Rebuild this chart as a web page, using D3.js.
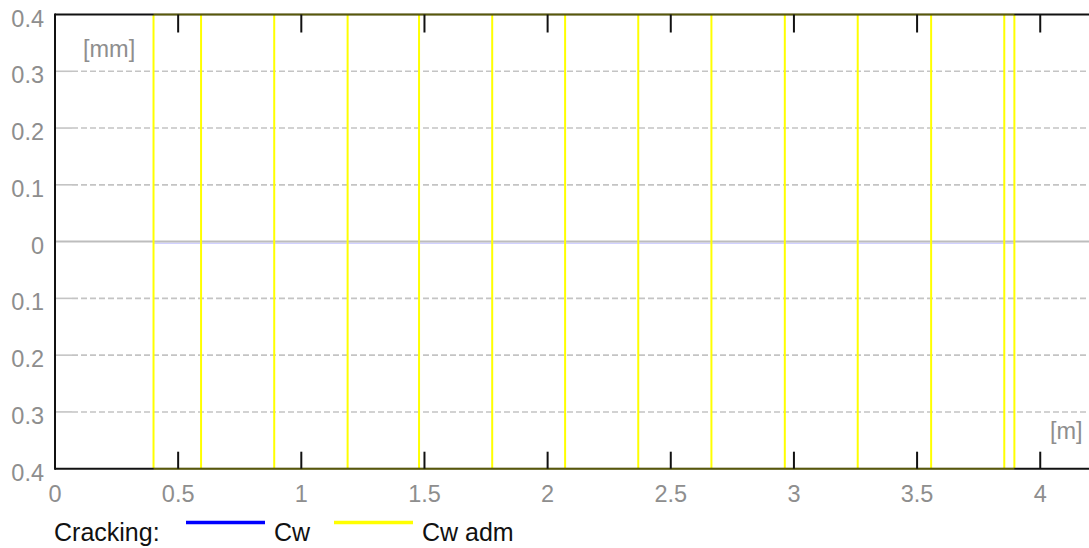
<!DOCTYPE html>
<html>
<head>
<meta charset="utf-8">
<script src="https://cdn.jsdelivr.net/npm/d3@7"></script>
<style>
  html, body { margin: 0; padding: 0; background: #fff; overflow: hidden; }
  svg { display: block; font-family: "Liberation Sans", Arial, sans-serif; }
</style>
</head>
<body>
<svg id="chart" width="1089" height="548"></svg>
<script>
// ---- data ----
const xTicks = [0, 0.5, 1, 1.5, 2, 2.5, 3, 3.5, 4];
const yTicks = [-0.4, -0.3, -0.2, -0.1, 0, 0.1, 0.2, 0.3, 0.4];
const crackPositions = [0.400, 0.593, 0.890, 1.188, 1.478, 1.775, 2.071, 2.368, 2.665, 2.963, 3.259, 3.557, 3.854, 3.895];
const cwValues = [0, 0, 0, 0, 0, 0, 0, 0, 0, 0, 0, 0, 0, 0];
const cwAdmLimit = 0.4;
const xUnit = "[m]";
const yUnit = "[mm]";
const legendTitle = "Cracking:";
const seriesNames = ["Cw", "Cw adm"];
const seriesColors = ["#0000ff", "#ffff00"];

// ---- layout ----
const W = 1089, H = 548;
const svg = d3.select("#chart");
const x = d3.scaleLinear().domain([0, 4.2]).range([55, 1089.5]);
const y = d3.scaleLinear().domain([-0.4, 0.4]).range([468.7, 14.5]);
const fmt = v => (Math.abs(v) < 1e-9 ? "0" : d3.format("~g")(Math.abs(v)));
const gray = "#8e8e8e";

// grid lines (dashed) and short solid gray y ticks
const grid = svg.append("g");
yTicks.filter(v => Math.abs(v) > 1e-9 && Math.abs(v) < 0.39).forEach(v => {
  grid.append("line")
    .attr("x1", x(0) + 17).attr("x2", W)
    .attr("y1", y(v)).attr("y2", y(v))
    .attr("stroke", "#c4c4c4").attr("stroke-width", 1.6)
    .attr("stroke-dasharray", "6,3");
  grid.append("line")
    .attr("x1", x(0)).attr("x2", x(0) + 17)
    .attr("y1", y(v)).attr("y2", y(v))
    .attr("stroke", "#c4c4c4").attr("stroke-width", 1.6);
});

// Cw series (at zero)
const lineGen = d3.line().x(d => x(d[0])).y(d => y(d[1]));
svg.append("path")
  .datum(crackPositions.map((p, i) => [p, cwValues[i]]))
  .attr("d", lineGen)
  .attr("transform", "translate(0,1.6)")
  .attr("fill", "none")
  .attr("stroke", seriesColors[0])
  .attr("stroke-opacity", 0.18)
  .attr("stroke-width", 1.5);

// zero line
svg.append("line")
  .attr("x1", x(0)).attr("x2", W)
  .attr("y1", y(0)).attr("y2", y(0))
  .attr("stroke", "#bdbdbd").attr("stroke-width", 2);

// Cw adm: vertical lines at cracks
svg.append("g").selectAll("line")
  .data(crackPositions)
  .join("line")
  .attr("x1", d => x(d)).attr("x2", d => x(d))
  .attr("y1", y(cwAdmLimit)).attr("y2", y(-cwAdmLimit))
  .attr("stroke", seriesColors[1])
  .attr("stroke-width", 2);

// frame: left, top, bottom
const frame = svg.append("g").attr("stroke", "#111").attr("stroke-width", 2).attr("fill", "none");
frame.append("line").attr("x1", x(0)).attr("x2", x(0)).attr("y1", y(0.4) - 1).attr("y2", y(-0.4) + 1);
frame.append("line").attr("x1", x(0)).attr("x2", W).attr("y1", y(0.4)).attr("y2", y(0.4));
frame.append("line").attr("x1", x(0)).attr("x2", W).attr("y1", y(-0.4)).attr("y2", y(-0.4));

// Cw adm horizontal limits (over the frame, tinted)
[cwAdmLimit, -cwAdmLimit].forEach(v => {
  svg.append("line")
    .attr("x1", x(d3.min(crackPositions))).attr("x2", x(d3.max(crackPositions)))
    .attr("y1", y(v)).attr("y2", y(v))
    .attr("stroke", seriesColors[1]).attr("stroke-opacity", 0.3)
    .attr("stroke-width", 2);
});

// x ticks (top and bottom, black)
const tickG = svg.append("g").attr("stroke", "#111").attr("stroke-width", 2);
xTicks.filter(v => v > 0).forEach(v => {
  tickG.append("line").attr("x1", x(v)).attr("x2", x(v)).attr("y1", y(0.4)).attr("y2", y(0.4) + 18);
  tickG.append("line").attr("x1", x(v)).attr("x2", x(v)).attr("y1", y(-0.4)).attr("y2", y(-0.4) - 17);
});

// y tick labels
svg.append("g").selectAll("text")
  .data(yTicks)
  .join("text")
  .attr("x", 44)
  .attr("y", d => y(d) + 12)
  .attr("text-anchor", "end")
  .attr("fill", gray)
  .attr("font-size", 23.5)
  .text(fmt);

// x tick labels
svg.append("g").selectAll("text")
  .data(xTicks)
  .join("text")
  .attr("x", d => x(d))
  .attr("y", 502)
  .attr("text-anchor", "middle")
  .attr("fill", gray)
  .attr("font-size", 23.5)
  .text(fmt);

// units
svg.append("text").attr("x", 83).attr("y", 57).attr("fill", gray).attr("font-size", 23.5).text(yUnit);
svg.append("text").attr("x", 1050).attr("y", 439).attr("fill", gray).attr("font-size", 23.5).text(xUnit);

// legend
const leg = svg.append("g").attr("font-size", 25).attr("fill", "#111");
leg.append("text").attr("x", 54).attr("y", 540.5).text(legendTitle);
const legItems = [{x1: 186, x2: 265, tx: 274}, {x1: 334, x2: 413, tx: 422}];
legItems.forEach((it, i) => {
  leg.append("line").attr("x1", it.x1).attr("x2", it.x2).attr("y1", 522.5).attr("y2", 522.5)
    .attr("stroke", seriesColors[i]).attr("stroke-width", 3.5);
  leg.append("text").attr("x", it.tx).attr("y", 540.5).text(seriesNames[i]);
});
</script>
</body>
</html>
